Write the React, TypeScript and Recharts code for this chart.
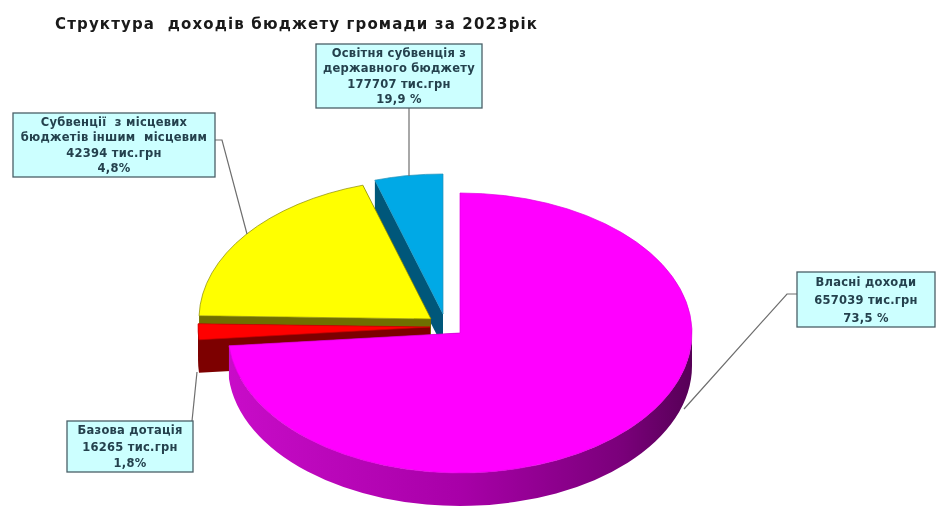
import { PieChart, Pie } from "recharts";

// slices run anticlockwise from 12 o'clock, so the back ones are painted first
const sliceKeys = ["osvita", "subvencii", "dotacia", "vlasni"];
const sliceValues = [42394, 177707, 16265, 657039];

// the captions as they stand in the picture, matched to slices by their leader lines
const captionNames = [
  ["Освітня субвенція з", "державного бюджету"],
  ["Субвенції  з місцевих", "бюджетів іншим  місцевим"],
  ["Базова дотація"],
  ["Власні доходи"],
];
const captionValues = ["177707 тис.грн", "42394 тис.грн", "16265 тис.грн", "657039 тис.грн"];
const captionPercents = ["19,9 %", "4,8%", "1,8%", "73,5 %"];

const TITLE = "Структура  доходів бюджету громади за 2023рік";

const W = 937;
const H = 507;
const CX = 460;
const CY = 333;
const RX = 232;
const RY = 140;
const DEPTH = 33;
const FONT = "'DejaVu Sans', sans-serif";

const FACE = ["#00a9e6", "#ffff00", "#ff0000", "#ff00ff"];
const SIDE = ["#00577a", "#6f6f00", "#7d0000", "url(#rim)"];
const EDGE = ["#1f8fb8", "#8a8a00", "#cc0000", "#e000e0"];
const SHIFT = [
  [-17, -19],
  [-29, -14],
  [-30, -6],
  [0, 0],
];
const BOX = [
  { x: 316, y: 44, w: 166, h: 64 },
  { x: 13, y: 113, w: 202, h: 64 },
  { x: 67, y: 421, w: 126, h: 51 },
  { x: 797, y: 272, w: 138, h: 55 },
];
const LEADER = [
  [[409, 108], [409, 176]],
  [[215, 140], [222, 140], [247, 234]],
  [[192, 421], [197, 372]],
  [[797, 294], [787, 294], [684, 409]],
];

const rad = (a: number) => (a * Math.PI) / 180;

function EllipseSlice(props: any) {
  const { startAngle, endAngle, index } = props;
  const cx = CX + SHIFT[index][0];
  const cy = CY + SHIFT[index][1];
  const px = (a: number) => cx + RX * Math.cos(rad(a));
  const py = (a: number) => cy - RY * Math.sin(rad(a));
  const large = endAngle - startAngle > 180 ? 1 : 0;

  const face = `M${cx},${cy} L${px(startAngle)},${py(startAngle)} A${RX},${RY} 0 ${large} 0 ${px(endAngle)},${py(endAngle)} Z`;
  const cut = (a: number) =>
    `M${cx},${cy} L${px(a)},${py(a)} L${px(a)},${py(a) + DEPTH} L${cx},${cy + DEPTH} Z`;

  const from = Math.max(startAngle, 180);
  const to = Math.min(endAngle, 360);
  const rim =
    to > from
      ? `M${px(from)},${py(from)} A${RX},${RY} 0 0 0 ${px(to)},${py(to)} L${px(to)},${py(to) + DEPTH} A${RX},${RY} 0 0 1 ${px(from)},${py(from) + DEPTH} Z`
      : null;

  return (
    <g>
      <path d={cut(startAngle)} fill={SIDE[index]} />
      <path d={cut(endAngle)} fill={SIDE[index]} />
      {rim && <path d={rim} fill={SIDE[index]} />}
      <path d={face} fill={FACE[index]} stroke={EDGE[index]} strokeWidth={0.7} />
    </g>
  );
}

function Caption({ index }: any) {
  const b = BOX[index];
  const lines = [...captionNames[index], captionValues[index], captionPercents[index]];
  const step = b.h / lines.length - 0.6;
  const top = b.y + (b.h - step * lines.length) / 2;
  return (
    <g>
      <polyline
        points={LEADER[index].map((p) => p.join(",")).join(" ")}
        fill="none"
        stroke="#6e6e6e"
        strokeWidth={1.2}
      />
      <rect x={b.x} y={b.y} width={b.w} height={b.h} fill="#ccffff" stroke="#4a6068" strokeWidth={1.3} />
      {lines.map((line, i) => (
        <text
          key={i}
          x={b.x + b.w / 2}
          y={top + step * i + step * 0.75}
          textAnchor="middle"
          fontFamily={FONT}
          fontWeight="bold"
          fontSize={11.5}
          letterSpacing={0.25}
          fill="#24414d"
          xmlSpace="preserve"
        >
          {line}
        </text>
      ))}
    </g>
  );
}

const data = sliceKeys.map((key, i) => ({ key, value: sliceValues[i] }));

export default function App() {
  return (
    <div
      style={{
        position: "absolute",
        left: 0,
        top: 0,
        width: W,
        height: H,
        background: "#fff",
        overflow: "hidden",
        filter: "blur(0.5px)",
      }}
    >
      <PieChart width={W} height={H} margin={{ top: 0, right: 0, bottom: 0, left: 0 }}>
        <defs>
          <linearGradient id="rim" x1="0" y1="0" x2="1" y2="0">
            <stop offset="0" stopColor="#c80cc8" />
            <stop offset="0.5" stopColor="#a800a8" />
            <stop offset="0.85" stopColor="#7a007a" />
            <stop offset="1" stopColor="#560056" />
          </linearGradient>
        </defs>
        <text
          x={55}
          y={29}
          fontFamily={FONT}
          fontWeight="bold"
          fontSize={15}
          fill="#1a1a1a"
          textLength={482}
          xmlSpace="preserve"
        >
          {TITLE}
        </text>
        <Pie
          data={data}
          dataKey="value"
          nameKey="key"
          cx={CX}
          cy={CY}
          outerRadius={RX}
          startAngle={90}
          endAngle={450}
          stroke="none"
          isAnimationActive={false}
          shape={EllipseSlice}
          label={Caption}
          labelLine={false}
        />
      </PieChart>
    </div>
  );
}
